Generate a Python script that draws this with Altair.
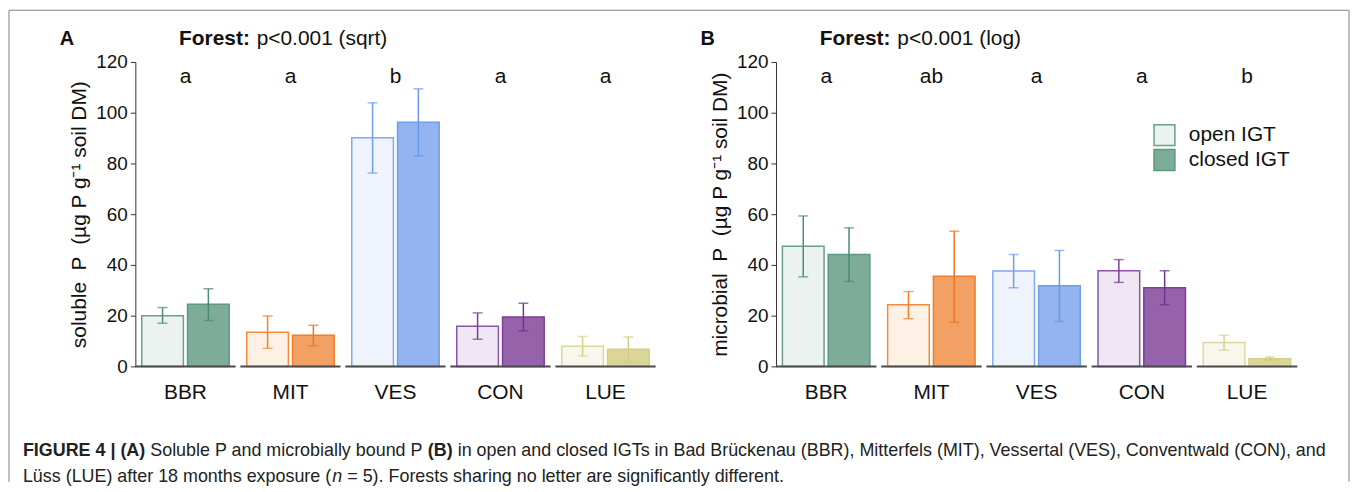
import altair as alt
import pandas as pd

FONT = "Liberation Sans"

forests = ["BBR", "MIT", "VES", "CON", "LUE"]
types = ["open", "closed"]

# Panel A: soluble P
solubleOpen = [20.0, 13.5, 90.1, 15.8, 7.9]
solubleOpenLo = [17.0, 7.1, 76.2, 10.7, 4.1]
solubleOpenHi = [23.2, 19.9, 103.9, 21.1, 11.8]
solubleClosed = [24.5, 12.3, 96.2, 19.5, 6.8]
solubleClosedLo = [18.1, 8.1, 83.0, 14.0, 1.7]
solubleClosedHi = [30.6, 16.2, 109.4, 24.9, 11.6]
lettersA = ["a", "a", "b", "a", "a"]

# Panel B: microbial P
microOpen = [47.4, 24.3, 37.6, 37.7, 9.4]
microOpenLo = [35.3, 18.8, 31.0, 33.1, 6.4]
microOpenHi = [59.3, 29.5, 44.1, 42.1, 12.3]
microClosed = [44.1, 35.5, 31.8, 31.0, 3.0]
microClosedLo = [33.5, 17.4, 17.7, 24.3, 2.5]
microClosedHi = [54.6, 53.3, 45.7, 37.7, 3.7]
lettersB = ["a", "ab", "a", "a", "b"]

yTicks = [0, 20, 40, 60, 80, 100, 120]

keys = [f + "|" + t for f in forests for t in types]
fillColors = ["#ebf2ef", "#7dad99",
              "#fdf0e5", "#f2a063",
              "#eef3fc", "#93b4f0",
              "#efe7f3", "#9663ab",
              "#f7f7ee", "#dbd697"]
strokeColors = ["#67a189", "#5b9a81",
                "#f58a3c", "#f27d2a",
                "#7fa9f0", "#6f9ded",
                "#8a55a8", "#7b3f9c",
                "#ddd899", "#d3ce85"]
errColors = ["#4f8f76", "#4a8a71",
             "#f47f2a", "#ee7622",
             "#6f9ded", "#6a98e8",
             "#7a3f9c", "#6f3392",
             "#d6d18c", "#d0cb82"]


def make_df(op, opLo, opHi, cl, clLo, clHi):
    rows = []
    for i, f in enumerate(forests):
        rows.append(dict(forest=f, type="open", key=f + "|open",
                         value=op[i], lo=opLo[i], hi=opHi[i]))
        rows.append(dict(forest=f, type="closed", key=f + "|closed",
                         value=cl[i], lo=clLo[i], hi=clHi[i]))
    return pd.DataFrame(rows)


def one(text):
    return pd.DataFrame({"t": [text]})


def panel(df, letters, ytitle, tag, pnote, legend):
    xenc = alt.X("forest:N", sort=forests,
                 scale=alt.Scale(paddingInner=0.045, paddingOuter=0.0),
                 axis=alt.Axis(title=None, domain=False, ticks=False,
                               labelFontSize=21, labelPadding=15,
                               labelColor="#111", labelAngle=0))
    xoff = alt.XOffset("type:N", sort=types,
                       scale=alt.Scale(paddingInner=0.09, paddingOuter=0.14))
    yscale = alt.Scale(domain=[0, 120], nice=False)
    yaxis = alt.Axis(values=yTicks, title=ytitle, grid=False,
                     domainColor="#333", tickColor="#333", tickSize=5,
                     labelFontSize=19, labelColor="#111", labelPadding=3,
                     titleFontSize=21, titleFontWeight="normal",
                     titleColor="#111", titlePadding=6)

    if legend:
        leg = alt.Legend(title=None, values=["BBR|open", "BBR|closed"],
                         labelExpr="datum.label == 'BBR|open' ? 'open IGT' : 'closed IGT'",
                         orient="none", legendX=379, legendY=62,
                         symbolType="square", symbolSize=441,
                         symbolStrokeWidth=1.5, labelFontSize=21,
                         labelColor="#111", labelOffset=13, rowPadding=-4,
                         padding=0)
        fill = alt.Fill("key:N", scale=alt.Scale(domain=keys, range=fillColors), legend=leg)
        stroke = alt.Stroke("key:N", scale=alt.Scale(domain=keys, range=strokeColors), legend=leg)
    else:
        fill = alt.Fill("key:N", scale=alt.Scale(domain=keys, range=fillColors), legend=None)
        stroke = alt.Stroke("key:N", scale=alt.Scale(domain=keys, range=strokeColors), legend=None)

    base = alt.Chart(df)
    bars = base.mark_bar(strokeWidth=1.5).encode(
        x=xenc, xOffset=xoff,
        y=alt.Y("value:Q", scale=yscale, axis=yaxis),
        fill=fill, stroke=stroke)
    ecolor = alt.Color("key:N", scale=alt.Scale(domain=keys, range=errColors), legend=None)
    err = base.mark_rule(strokeWidth=1.5).encode(
        x=alt.X("forest:N", sort=forests), xOffset=xoff,
        y=alt.Y("lo:Q", scale=yscale), y2="hi:Q", color=ecolor)
    capLo = base.mark_tick(thickness=1.5, size=10).encode(
        x=alt.X("forest:N", sort=forests), xOffset=xoff,
        y=alt.Y("lo:Q", scale=yscale), color=ecolor)
    capHi = base.mark_tick(thickness=1.5, size=10).encode(
        x=alt.X("forest:N", sort=forests), xOffset=xoff,
        y=alt.Y("hi:Q", scale=yscale), color=ecolor)

    segdf = pd.DataFrame({"forest": forests})
    seg = alt.Chart(segdf).mark_bar(color="#4a4a4a").encode(
        x=alt.X("forest:N", sort=forests),
        y=alt.datum(0.35), y2=alt.datum(-0.45))

    letdf = pd.DataFrame({"forest": forests, "letter": letters})
    lets = alt.Chart(letdf).mark_text(fontSize=21, baseline="alphabetic",
                                      color="#111").encode(
        x=alt.X("forest:N", sort=forests),
        y=alt.datum(111.7), text="letter:N")

    tagTxt = alt.Chart(one(tag)).mark_text(fontSize=20, fontWeight="bold", align="left",
                                           baseline="middle", color="#111").encode(
        x=alt.value(-76), y=alt.value(-23), text="t:N")
    forTxt = alt.Chart(one("Forest:")).mark_text(fontSize=21, fontWeight="bold", align="left",
                                                 baseline="middle", color="#111").encode(
        x=alt.value(44), y=alt.value(-23), text="t:N")
    pTxt = alt.Chart(one(pnote)).mark_text(fontSize=21, align="left",
                                           baseline="middle", color="#111").encode(
        x=alt.value(122), y=alt.value(-23), text="t:N")

    return [bars, err, capLo, capHi, seg, lets, tagTxt, forTxt, pTxt]


dfA = make_df(solubleOpen, solubleOpenLo, solubleOpenHi,
              solubleClosed, solubleClosedLo, solubleClosedHi)
dfB = make_df(microOpen, microOpenLo, microOpenHi,
              microClosed, microClosedLo, microClosedHi)

layersA = panel(dfA, lettersA, "soluble\u00a0 P\u00a0 (µg P g⁻¹ soil DM)", "A",
                "p<0.001 (sqrt)", False)
layersB = panel(dfB, lettersB, "microbial\u00a0 P\u00a0 (µg P g⁻¹ soil DM)", "B",
                "p<0.001 (log)", True)

# figure frame and caption (drawn in panel A's coordinate space)
frameTop = alt.Chart(one("")).mark_rule(color="#808080", strokeWidth=1).encode(
    x=alt.value(-127), x2=alt.value(1220), y=alt.value(-52))
frameLeft = alt.Chart(one("")).mark_rule(color="#808080", strokeWidth=1).encode(
    x=alt.value(-127), y=alt.value(-52), y2=alt.value(422))
frameRight = alt.Chart(one("")).mark_rule(color="#808080", strokeWidth=1).encode(
    x=alt.value(1220), y=alt.value(-52), y2=alt.value(422))

capStyle = dict(fontSize=18, align="left", baseline="middle", color="#222")
cap1 = alt.Chart(one("FIGURE 4 | (A)")).mark_text(fontWeight="bold", **capStyle).encode(
    x=alt.value(-113), y=alt.value(391), text="t:N")
cap2 = alt.Chart(one("Soluble P and microbially bound P")).mark_text(**capStyle).encode(
    x=alt.value(15), y=alt.value(391), text="t:N")
cap3 = alt.Chart(one("(B)")).mark_text(fontWeight="bold", **capStyle).encode(
    x=alt.value(294), y=alt.value(391), text="t:N")
cap4 = alt.Chart(one("in open and closed IGTs in Bad Brückenau (BBR), Mitterfels (MIT), "
                     "Vessertal (VES), Conventwald (CON), and")).mark_text(**capStyle).encode(
    x=alt.value(324), y=alt.value(391), text="t:N")
cap5 = alt.Chart(one("Lüss (LUE) after 18 months exposure (")).mark_text(**capStyle).encode(
    x=alt.value(-113), y=alt.value(417), text="t:N")
cap6 = alt.Chart(one("n")).mark_text(fontStyle="italic", **capStyle).encode(
    x=alt.value(198), y=alt.value(417), text="t:N")
cap7 = alt.Chart(one("= 5). Forests sharing no letter are significantly different.")).mark_text(**capStyle).encode(
    x=alt.value(213), y=alt.value(417), text="t:N")

chartA = alt.layer(*layersA, frameTop, frameLeft, frameRight,
                   cap1, cap2, cap3, cap4, cap5, cap6, cap7).properties(width=523, height=306)
chartB = alt.layer(*layersB).properties(width=524, height=306)

chart = alt.hconcat(chartA, chartB, spacing=121, bounds="flush").resolve_scale(
    fill="independent", stroke="independent", color="independent"
).properties(padding=0).configure_view(stroke="transparent").configure_axis(
    labelFont=FONT, titleFont=FONT
).configure_text(font=FONT).configure_legend(labelFont=FONT)

chart.save("out.html", embed_options={"renderer": "svg", "actions": False})
